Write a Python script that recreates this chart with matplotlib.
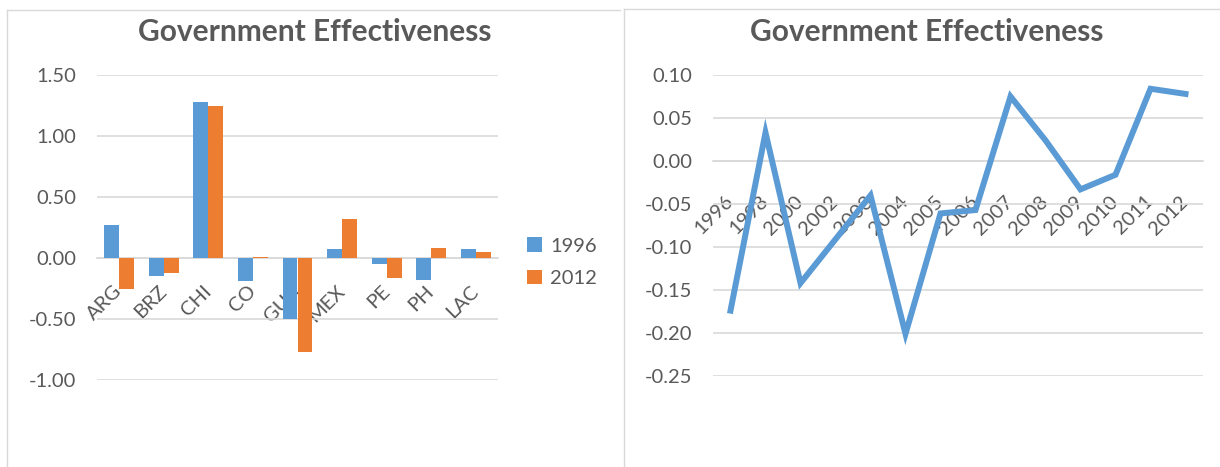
import matplotlib
matplotlib.use("Agg")
import matplotlib.pyplot as plt
from matplotlib.lines import Line2D
from matplotlib.patches import Patch
import numpy as np

# data
countries = ["ARG", "BRZ", "CHI", "CO", "GUA", "MEX", "PE", "PH", "LAC"]
ge_1996 = [0.27, -0.15, 1.28, -0.19, -0.50, 0.07, -0.05, -0.18, 0.07]
ge_2012 = [-0.25, -0.12, 1.25, 0.01, -0.77, 0.32, -0.16, 0.08, 0.05]

years = ["1996", "1998", "2000", "2002", "2003", "2004", "2005",
         "2006", "2007", "2008", "2009", "2010", "2011", "2012"]
ge_trend = [-0.174, 0.033, -0.142, -0.091, -0.040, -0.201, -0.061,
            -0.057, 0.075, 0.024, -0.033, -0.016, 0.084, 0.078]

BLUE = "#5B9BD5"
ORANGE = "#ED7D31"
TEXT = "#595959"
GRID = "#D9D9D9"

plt.rcParams["font.family"] = ["Lato", "DejaVu Sans"]
plt.rcParams["axes.unicode_minus"] = False

W, H = 1220, 467
fig = plt.figure(figsize=(W / 100, H / 100), dpi=100)


def px_axes(x0, y0, x1, y1):
    return fig.add_axes([x0 / W, 1 - y1 / H, (x1 - x0) / W, (y1 - y0) / H])


def style_axes(ax, yticks, pad_x):
    ax.set_yticks(np.round(yticks, 2) + 0.0)
    ax.yaxis.set_major_formatter(matplotlib.ticker.FormatStrFormatter("%.2f"))
    ax.grid(axis="y", color=GRID, linewidth=1.2)
    ax.set_axisbelow(True)
    for side in ["top", "right", "left"]:
        ax.spines[side].set_visible(False)
    ax.spines["bottom"].set_position(("data", 0))
    ax.spines["bottom"].set_color(GRID)
    ax.spines["bottom"].set_linewidth(1.2)
    ax.tick_params(axis="y", length=0, pad=15, labelsize=14.5, labelcolor=TEXT)
    ax.tick_params(axis="x", length=0, pad=pad_x, labelsize=14.5, labelcolor=TEXT)
    for lbl in ax.get_xticklabels():
        lbl.set_rotation(45)
        lbl.set_rotation_mode("anchor")
        lbl.set_ha("right")
        lbl.set_va("center")


# panel frames
fig.add_artist(Line2D([7 / W, 7 / W], [0, 1 - 10 / H], color=GRID, lw=1))
fig.add_artist(Line2D([7 / W, 620 / W], [1 - 10 / H, 1 - 10 / H], color=GRID, lw=1))
fig.add_artist(Line2D([624 / W, 624 / W], [0, 1 - 9 / H], color=GRID, lw=1))
fig.add_artist(Line2D([624 / W, 1 - 1 / W], [1 - 9 / H, 1 - 9 / H], color=GRID, lw=1))

# left: bar chart
ax1 = px_axes(97, 75, 498, 380)
x = np.arange(len(countries))
bw = 0.336
ax1.bar(x - bw / 2, ge_1996, bw, color=BLUE, zorder=3, label="1996")
ax1.bar(x + bw / 2, ge_2012, bw, color=ORANGE, zorder=3, label="2012")
ax1.set_xlim(-0.5, len(countries) - 0.5)
ax1.set_ylim(-1.0, 1.5)
ax1.set_xticks(x)
ax1.set_xticklabels(countries)
style_axes(ax1, np.arange(-1.0, 1.51, 0.5), 22)

fig.text(315 / W, 1 - 32 / H, "Government Effectiveness", ha="center", va="center",
         fontsize=21.5, fontweight="bold", color=TEXT)

handles = [Patch(facecolor=BLUE, label="1996"), Patch(facecolor=ORANGE, label="2012")]
fig.legend(handles=handles, loc="upper left", bbox_to_anchor=(509 / W, 1 - 219 / H),
           frameon=False, fontsize=14.5, labelcolor=TEXT, handlelength=0.75,
           handleheight=0.75, handletextpad=0.4, labelspacing=0.75)

# right: line chart
ax2 = px_axes(713, 75, 1203, 376)
xl = np.arange(len(years))
ax2.plot(xl, ge_trend, color=BLUE, linewidth=4.3, zorder=3, solid_joinstyle="miter")
ax2.set_xlim(-0.5, len(years) - 0.5)
ax2.set_ylim(-0.25, 0.10)
ax2.set_xticks(xl)
ax2.set_xticklabels(years)
style_axes(ax2, np.arange(-0.25, 0.101, 0.05), 27)

fig.text(927 / W, 1 - 32 / H, "Government Effectiveness", ha="center", va="center",
         fontsize=21.5, fontweight="bold", color=TEXT)

fig.savefig("out.png", dpi=100)
